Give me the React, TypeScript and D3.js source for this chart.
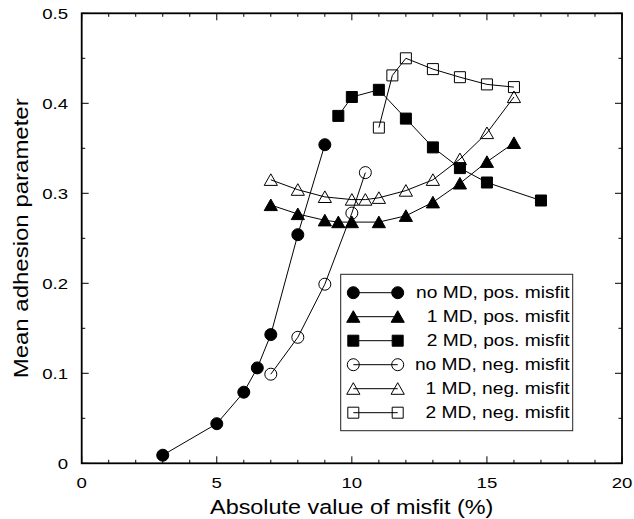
import React, { useEffect, useRef } from "react";
import * as d3 from "d3";

// values
const noMdPosX = [3, 5, 6, 6.5, 7, 8, 9];
const noMdPosY = [0.009, 0.044, 0.079, 0.106, 0.143, 0.254, 0.354];
const oneMdPosX = [7, 8, 9, 9.5, 10, 11, 12, 13, 14, 15, 16];
const oneMdPosY = [0.287, 0.277, 0.27, 0.268, 0.268, 0.268, 0.275, 0.29, 0.311, 0.335, 0.356];
const twoMdPosX = [9.5, 10, 11, 12, 13, 14, 15, 17];
const twoMdPosY = [0.386, 0.407, 0.415, 0.383, 0.351, 0.328, 0.312, 0.292];
const noMdNegX = [7, 8, 9, 10, 10.5];
const noMdNegY = [0.099, 0.14, 0.199, 0.278, 0.323];
const oneMdNegX = [7, 8, 9, 10, 10.5, 11, 12, 13, 14, 15, 16];
const oneMdNegY = [0.315, 0.304, 0.296, 0.293, 0.293, 0.295, 0.303, 0.315, 0.338, 0.367, 0.407];
const twoMdNegX = [11, 11.5, 12, 13, 14, 15, 16];
const twoMdNegY = [0.373, 0.431, 0.45, 0.438, 0.429, 0.421, 0.418];

const seriesNames = [
  "no MD, pos. misfit",
  "1 MD, pos. misfit",
  "2 MD, pos. misfit",
  "no MD, neg. misfit",
  "1 MD, neg. misfit",
  "2 MD, neg. misfit",
];
const xTicks = [0, 5, 10, 15, 20];
const yTicks = [0, 0.1, 0.2, 0.3, 0.4, 0.5];

const FONT = "'Liberation Sans', Arial, Helvetica, sans-serif";
const SX = 1.2; // glyphs in the figure are wider than they are tall

type Shape = "circle" | "triangle" | "square";

function markerPath(shape: Shape): string {
  if (shape === "circle") {
    const p = d3.path();
    p.arc(0, 0, 6, 0, Math.PI * 2);
    return p.toString();
  }
  if (shape === "square") return "M-5.5,-5.5H5.5V5.5H-5.5Z";
  return "M0,-6L6.6,5.6H-6.6Z";
}

export default function App() {
  const ref = useRef<SVGSVGElement>(null);

  useEffect(() => {
    const svg = d3.select(ref.current);
    svg.selectAll("*").remove();

    const left = 81.7, right = 622, top = 13.3, bottom = 463.3;
    const x = d3.scaleLinear().domain([0, 20]).range([left, right]);
    const y = d3.scaleLinear().domain([0, 0.5]).range([bottom, top]);

    const series = [
      { xs: noMdPosX, ys: noMdPosY, shape: "circle", filled: true },
      { xs: oneMdPosX, ys: oneMdPosY, shape: "triangle", filled: true },
      { xs: twoMdPosX, ys: twoMdPosY, shape: "square", filled: true },
      { xs: noMdNegX, ys: noMdNegY, shape: "circle", filled: false },
      { xs: oneMdNegX, ys: oneMdNegY, shape: "triangle", filled: false },
      { xs: twoMdNegX, ys: twoMdNegY, shape: "square", filled: false },
    ].map((s, i) => ({ ...s, name: seriesNames[i], pts: s.xs.map((v, j) => [v, s.ys[j]] as [number, number]) }));

    // ticks, all pointing inward
    const g = svg.append("g").attr("stroke", "#000").attr("stroke-width", 1);
    d3.range(0, 20.001, 1).forEach((v) => {
      const len = v % 5 === 0 ? 7 : 3.5;
      g.append("line").attr("x1", x(v)).attr("x2", x(v)).attr("y1", bottom).attr("y2", bottom - len);
      g.append("line").attr("x1", x(v)).attr("x2", x(v)).attr("y1", top).attr("y2", top + len);
    });
    d3.range(0, 0.5001, 0.05).forEach((v) => {
      const len = Math.round(v * 100) % 10 === 0 ? 7 : 3.5;
      g.append("line").attr("y1", y(v)).attr("y2", y(v)).attr("x1", left).attr("x2", left + len);
      g.append("line").attr("y1", y(v)).attr("y2", y(v)).attr("x1", right).attr("x2", right - len);
    });

    // frame
    svg.append("rect").attr("x", left).attr("y", top).attr("width", right - left).attr("height", bottom - top)
      .attr("fill", "none").attr("stroke", "#000").attr("stroke-width", 1.8);

    // tick labels
    xTicks.forEach((v) => {
      svg.append("text").attr("transform", `translate(${x(v)},487.5) scale(${SX},1)`)
        .attr("text-anchor", "middle").attr("font-size", 15.5).attr("font-family", FONT).text(v);
    });
    yTicks.forEach((v) => {
      svg.append("text").attr("transform", `translate(68,${y(v) + 5.4}) scale(${SX},1)`)
        .attr("text-anchor", "end").attr("font-size", 15.5).attr("font-family", FONT).text(v === 0 ? "0" : v.toFixed(1));
    });

    // axis titles
    svg.append("text").attr("transform", `translate(351.7,513.5) scale(${SX},1)`)
      .attr("text-anchor", "middle").attr("font-size", 19.5).attr("font-family", FONT)
      .text("Absolute value of misfit (%)");
    svg.append("text").attr("transform", `translate(27.5,238.3) rotate(-90) scale(${SX},1)`)
      .attr("text-anchor", "middle").attr("font-size", 20).attr("font-family", FONT)
      .text("Mean adhesion parameter");

    // lines + markers
    const line = d3.line<[number, number]>().x((d) => x(d[0])).y((d) => y(d[1]));
    series.forEach((s) => {
      svg.append("path").attr("d", line(s.pts)).attr("fill", "none").attr("stroke", "#000").attr("stroke-width", 1);
      svg.selectAll(null).data(s.pts).join("path")
        .attr("transform", (d) => `translate(${x(d[0])},${y(d[1])})`)
        .attr("d", markerPath(s.shape as Shape))
        .attr("fill", s.filled ? "#000" : "none")
        .attr("stroke", "#000").attr("stroke-width", 1);
    });

    // legend
    const lg = svg.append("g");
    lg.append("rect").attr("x", 340.7).attr("y", 274.3).attr("width", 232).attr("height", 156.4)
      .attr("fill", "#fff").attr("stroke", "#222").attr("stroke-width", 1);
    series.forEach((s, i) => {
      const cy = 292.7 + i * 24;
      lg.append("line").attr("x1", 353.3).attr("x2", 397.7).attr("y1", cy).attr("y2", cy)
        .attr("stroke", "#000").attr("stroke-width", 1);
      [353.3, 397.7].forEach((cx) => {
        lg.append("path").attr("transform", `translate(${cx},${cy})`).attr("d", markerPath(s.shape as Shape))
          .attr("fill", s.filled ? "#000" : "none").attr("stroke", "#000").attr("stroke-width", 1);
      });
      lg.append("text").attr("transform", `translate(569.5,${cy + 5.7}) scale(${SX},1)`)
        .attr("text-anchor", "end").attr("font-size", 16).attr("font-family", FONT).text(s.name);
    });
  }, []);

  return (
    <svg ref={ref} width={634} height={519}
      style={{ position: "absolute", left: 0, top: 0, background: "#fff" }} />
  );
}
